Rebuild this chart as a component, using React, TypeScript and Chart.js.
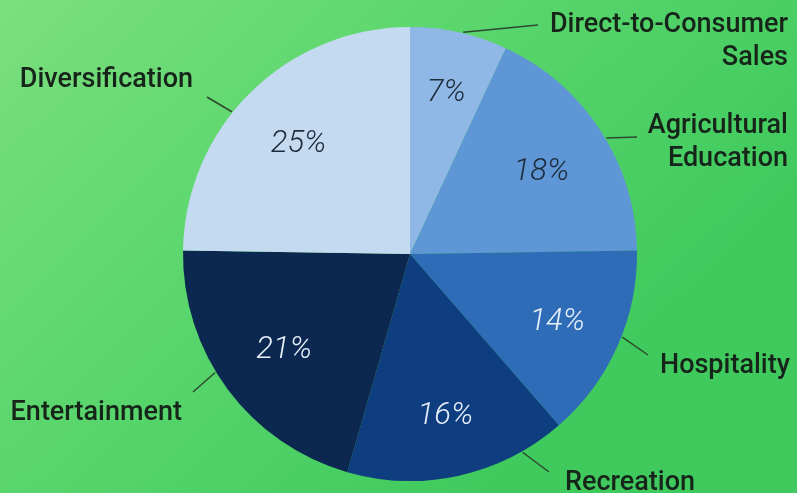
import React, { useEffect, useRef } from "react";
import { Chart, registerables } from "chart.js";

Chart.register(...registerables);

const categories = [
  "Direct-to-Consumer Sales",
  "Agricultural Education",
  "Hospitality",
  "Recreation",
  "Entertainment",
  "Diversification",
];
const values = [7, 18, 14, 16, 21, 25];
const percentLabels = ["7%", "18%", "14%", "16%", "21%", "25%"];
const labelLines = [
  ["Direct-to-Consumer", "Sales"],
  ["Agricultural", "Education"],
  ["Hospitality"],
  ["Recreation"],
  ["Entertainment"],
  ["Diversification"],
];
const sliceColors = ["#8fb8e6", "#5e96d6", "#2f6cb8", "#0e3d80", "#0c2850", "#c4daf0"];
const pctColors = ["#1e2b3a", "#1e2b3a", "#e6eef8", "#e6eef8", "#e6eef8", "#1e2b3a"];

// layout of outer labels relative to pie centre (px)
const pctRadius = [0.74, 0.69, 0.71, 0.72, 0.69, 0.7];
const leaderAngle = [13.5, 59.4, 111.4, 150.4, 238.7, 308.6];
const leaderEnd = [
  [128, -229],
  [227, -117],
  [238, 101],
  [139, 218],
  [-217, 138],
  [-203, -157],
];
const textPos = [
  [378, -229, "right"],
  [378, -128, "right"],
  [250, 112, "left"],
  [155, 229, "left"],
  [-228, 159, "right"],
  [-217, -174, "right"],
];

const bgPlugin = {
  id: "bg",
  beforeDraw(chart: any) {
    const { ctx, width, height } = chart;
    ctx.save();
    const g = ctx.createLinearGradient(0, 0, width * 0.6, height);
    g.addColorStop(0, "#7bdf7e");
    g.addColorStop(0.5, "#5ad66d");
    g.addColorStop(1, "#40ca5e");
    ctx.fillStyle = g;
    ctx.fillRect(0, 0, width, height);
    ctx.restore();
  },
};

const labelPlugin = {
  id: "labels",
  afterDatasetsDraw(chart: any) {
    const { ctx } = chart;
    const arcs = chart.getDatasetMeta(0).data;
    ctx.save();
    arcs.forEach((arc: any, i: number) => {
      const { x, y, startAngle, endAngle, outerRadius } = arc.getProps(
        ["x", "y", "startAngle", "endAngle", "outerRadius"],
        true
      );
      const mid = (startAngle + endAngle) / 2;
      const pr = outerRadius * pctRadius[i];
      ctx.font = "italic 300 31px Roboto";
      ctx.fillStyle = pctColors[i];
      ctx.textAlign = "center";
      ctx.textBaseline = "middle";
      ctx.fillText(percentLabels[i], x + pr * Math.cos(mid), y + pr * Math.sin(mid) + 3);

      const a = ((leaderAngle[i] - 90) * Math.PI) / 180;
      const sx = x + (outerRadius + 1) * Math.cos(a);
      const sy = y + (outerRadius + 1) * Math.sin(a);
      ctx.strokeStyle = "#2c4a30";
      ctx.lineWidth = 1.5;
      ctx.beginPath();
      ctx.moveTo(sx, sy);
      ctx.lineTo(x + leaderEnd[i][0], y + leaderEnd[i][1]);
      ctx.stroke();

      ctx.font = "500 27px Roboto";
      ctx.fillStyle = "#17241a";
      ctx.textAlign = textPos[i][2] as CanvasTextAlign;
      ctx.textBaseline = "middle";
      labelLines[i].forEach((t, j) => {
        ctx.fillText(t, x + (textPos[i][0] as number), y + (textPos[i][1] as number) + j * 33);
      });
    });
    ctx.restore();
  },
};

export default function App() {
  const ref = useRef<HTMLCanvasElement>(null);
  useEffect(() => {
    document.body.style.margin = "0";
    const chart = new Chart(ref.current!, {
      type: "pie",
      data: {
        labels: categories,
        datasets: [
          {
            data: values,
            backgroundColor: sliceColors,
            borderWidth: 0,
          },
        ],
      },
      options: {
        responsive: false,
        animation: false,
        layout: { padding: { left: 183, right: 160, top: 27, bottom: 12 } },
        plugins: { legend: { display: false }, tooltip: { enabled: false } },
      },
      plugins: [bgPlugin, labelPlugin],
    });
    return () => chart.destroy();
  }, []);
  return <canvas ref={ref} width={797} height={493} style={{ display: "block", width: 797, height: 493 }} />;
}
